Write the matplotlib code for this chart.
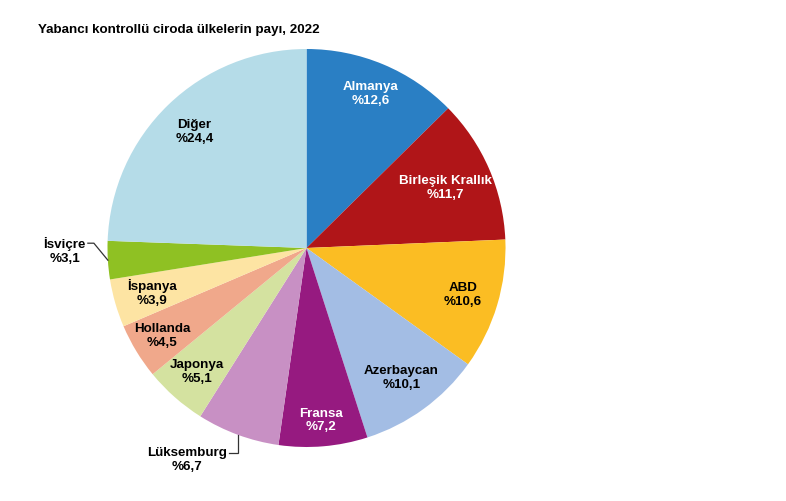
import matplotlib
matplotlib.use('Agg')
import matplotlib.pyplot as plt
import numpy as np

plt.rcParams['font.family'] = ['Liberation Sans', 'DejaVu Sans']

title = "Yabancı kontrollü ciroda ülkelerin payı, 2022"
countries = ["Almanya", "Birleşik Krallık", "ABD", "Azerbaycan", "Fransa",
             "Lüksemburg", "Japonya", "Hollanda", "İspanya", "İsviçre", "Diğer"]
shares = [12.6, 11.7, 10.6, 10.1, 7.2, 6.7, 5.1, 4.5, 3.9, 3.1, 24.4]
share_labels = ["%12,6", "%11,7", "%10,6", "%10,1", "%7,2", "%6,7",
                "%5,1", "%4,5", "%3,9", "%3,1", "%24,4"]

colors = ["#2a7fc4", "#b01518", "#fbbd23", "#a3bde4", "#961a80", "#c890c4",
          "#d4e2a0", "#f0a88b", "#fde4a3", "#8fc123", "#b5dce8"]
text_colors = ["white", "white", "black", "black", "white", "black",
               "black", "black", "black", "black", "black"]
label_r = [0.84, 0.76, 0.82, 0.81, 0.87, None, 0.83, 0.85, 0.81, None, 0.81]

W, H = 786, 501
fig = plt.figure(figsize=(W / 100, H / 100), dpi=100)
R_px = 199
cx, cy = 306.5, 248
ax = fig.add_axes([(cx - R_px) / W, (H - cy - R_px) / H, 2 * R_px / W, 2 * R_px / H])
wedges, _ = ax.pie(shares, colors=colors, startangle=90, counterclock=False,
                   radius=1, wedgeprops=dict(linewidth=0))
ax.set_xlim(-1, 1)
ax.set_ylim(-1, 1)
ax.set_aspect('equal')
ax.axis('off')

fs = 9.6
px = 1 / R_px
for i, w in enumerate(wedges):
    mid = np.deg2rad((w.theta1 + w.theta2) / 2)
    txt = f"{countries[i]}\n{share_labels[i]}"
    if label_r[i] is not None:
        r = label_r[i]
        ax.text(r * np.cos(mid), r * np.sin(mid), txt, ha='center', va='center',
                fontsize=fs, fontweight='bold', color=text_colors[i],
                multialignment='center', linespacing=1.2)
    else:
        ex, ey = np.cos(mid), np.sin(mid)
        if countries[i] == "Lüksemburg":
            elx, ely = ex, ey - 18 * px
            endx, endy = elx - 9 * px, ely
        else:
            elx, ely = ex - 14 * px, ey + 17 * px
            endx, endy = elx - 6 * px, ely
        ax.plot([ex, elx, endx], [ey, ely, endy], color='#333333', lw=0.9,
                clip_on=False, solid_joinstyle='miter')
        ax.text(endx - 2 * px, endy - 7.5 * px, txt, ha='right', va='center',
                fontsize=fs, fontweight='bold', color=text_colors[i],
                multialignment='center', linespacing=1.2, clip_on=False)

fig.text(38 / W, 1 - 30 / H, title, ha='left', va='center', fontsize=fs,
         fontweight='bold', color='black')

fig.savefig('out.png', dpi=100)
